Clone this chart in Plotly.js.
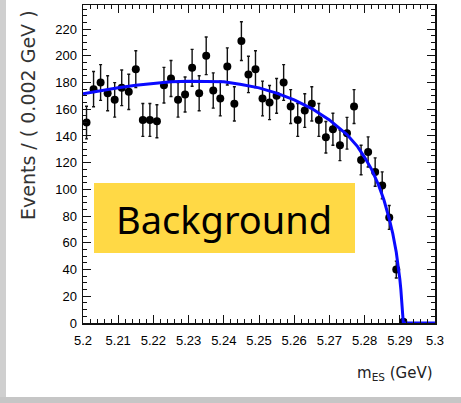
<!DOCTYPE html>
<html>
<head>
<meta charset="utf-8">
<script src="https://cdn.plot.ly/plotly-3.0.1.min.js"></script>
<style>
  html, body { margin: 0; padding: 0; background: #ffffff; }
  #chart { width: 461px; height: 403px; }
</style>
</head>
<body>
<div id="chart"></div>
<script>
// m_ES bin centres (GeV), 0.002 GeV bins
const binCentres = [
  5.201, 5.203, 5.205, 5.207, 5.209, 5.211, 5.213, 5.215, 5.217, 5.219,
  5.221, 5.223, 5.225, 5.227, 5.229, 5.231, 5.233, 5.235, 5.237, 5.239,
  5.241, 5.243, 5.245, 5.247, 5.249, 5.251, 5.253, 5.255, 5.257, 5.259,
  5.261, 5.263, 5.265, 5.267, 5.269, 5.271, 5.273, 5.275, 5.277, 5.279,
  5.281, 5.283, 5.285, 5.287, 5.289, 5.291
];

// events per bin
const events = [
  150, 175, 180, 172, 167, 176, 173, 190, 152, 152,
  151, 178, 183, 167, 171, 191, 172, 200, 174, 168,
  192, 164, 211, 186, 190, 168, 165, 170, 180, 162,
  152, 159, 164, 152, 139, 145, 133, 142, 162, 122,
  128, 113, 103, 79, 40, 1
];

// statistical uncertainty per bin
const eventErrors = [
  12.2, 13.2, 13.4, 13.1, 12.9, 13.3, 13.2, 13.8, 12.3, 12.3,
  12.3, 13.3, 13.5, 12.9, 13.1, 13.8, 13.1, 14.1, 13.2, 13.0,
  13.9, 12.8, 14.5, 13.6, 13.8, 13.0, 12.8, 13.0, 13.4, 12.7,
  12.3, 12.6, 12.8, 12.3, 11.8, 12.0, 11.5, 11.9, 12.7, 11.0,
  11.3, 10.6, 10.1, 8.9, 6.3, 1.0
];

// background fit curve (ARGUS shape) sampled along m_ES
const fitMass = [
  5.200, 5.205, 5.210, 5.215, 5.220, 5.225, 5.230, 5.235, 5.240, 5.245,
  5.250, 5.255, 5.260, 5.265, 5.270, 5.275, 5.278, 5.280, 5.282, 5.284,
  5.2855, 5.287, 5.288, 5.289, 5.2895, 5.2900, 5.2903, 5.2906, 5.2910, 5.3000
];
const fitEvents = [
  171.5, 174, 176, 178, 179.5, 180.5, 181, 181, 180.5, 178.5,
  176, 172, 167, 160.5, 152, 141, 132, 124, 115, 103,
  92, 78, 67, 53, 44, 33, 25, 15, 0, 0
];

// axis ticks
const xTickVals = [5.20, 5.21, 5.22, 5.23, 5.24, 5.25, 5.26, 5.27, 5.28, 5.29, 5.30];
const xTickText = ["5.2", "5.21", "5.22", "5.23", "5.24", "5.25", "5.26", "5.27", "5.28", "5.29", "5.3"];
const yTickVals = [0, 20, 40, 60, 80, 100, 120, 140, 160, 180, 200, 220];

const yTitle = "Events / ( 0.002 GeV )";
const xTitle = "m<sub>ES</sub> (GeV)";
const boxLabel = "Background";

const dataTrace = {
  type: "scatter",
  mode: "markers",
  x: binCentres,
  y: events,
  error_y: {
    type: "data",
    array: eventErrors,
    visible: true,
    color: "#111111",
    thickness: 1.4,
    width: 1.5
  },
  marker: { color: "#000000", size: 8 },
  hoverinfo: "x+y",
  showlegend: false
};

const fitTrace = {
  type: "scatter",
  mode: "lines",
  x: fitMass,
  y: fitEvents,
  line: { color: "#0a0aff", width: 3, shape: "linear" },
  hoverinfo: "skip",
  showlegend: false
};

// plot area spans pixels x 83..435, y 5..323
const L = 83, R = 435, T = 5, B = 323;
const px = v => (v - L) / (R - L);
const py = v => (B - v) / (B - T);

const tickFont = { family: "Liberation Sans, Arial, sans-serif", size: 13, color: "#000000" };

const layout = {
  width: 461,
  height: 403,
  margin: { l: L, r: 461 - R, t: T, b: 403 - B, pad: 0 },
  paper_bgcolor: "#ffffff",
  plot_bgcolor: "#ffffff",
  showlegend: false,
  xaxis: {
    range: [5.2, 5.3],
    tickvals: xTickVals,
    ticktext: xTickText,
    ticks: "inside",
    ticklen: 8,
    tickwidth: 1,
    tickcolor: "#111111",
    mirror: "allticks",
    showline: true,
    linecolor: "#111111",
    linewidth: 1.5,
    showgrid: false,
    zeroline: false,
    tickfont: tickFont,
    ticklabelstandoff: 5,
    minor: { dtick: 0.002, tick0: 5.2, ticks: "inside", ticklen: 4, tickcolor: "#111111", tickwidth: 1, showgrid: false }
  },
  yaxis: {
    range: [0, 238],
    tickvals: yTickVals,
    ticks: "inside",
    ticklen: 8,
    tickwidth: 1,
    tickcolor: "#111111",
    mirror: "allticks",
    showline: true,
    linecolor: "#111111",
    linewidth: 1.5,
    showgrid: false,
    zeroline: false,
    tickfont: tickFont,
    ticklabelstandoff: 2,
    minor: { dtick: 5, tick0: 0, ticks: "inside", ticklen: 4, tickcolor: "#111111", tickwidth: 1, showgrid: false }
  },
  shapes: [
    // slide frame edges
    { type: "rect", xref: "paper", yref: "paper", x0: px(0), x1: px(6), y0: py(403), y1: py(0),
      fillcolor: "#cfcfcf", line: { width: 0 }, layer: "below" },
    { type: "rect", xref: "paper", yref: "paper", x0: px(0), x1: px(461), y0: py(403), y1: py(397),
      fillcolor: "#c6c6c6", line: { width: 0 }, layer: "below" },
    // label box
    { type: "rect", xref: "paper", yref: "paper", x0: px(94), x1: px(355), y0: py(253), y1: py(183),
      fillcolor: "#ffd945", line: { width: 0 }, layer: "above" }
  ],
  annotations: [
    { text: boxLabel, xref: "paper", yref: "paper", x: px(224), y: py(219),
      xanchor: "center", yanchor: "middle", showarrow: false,
      font: { family: "Noto Sans, DejaVu Sans, sans-serif", size: 38, color: "#000000" } },
    { text: yTitle, xref: "paper", yref: "paper", x: px(28), y: py(8),
      xanchor: "center", yanchor: "top", textangle: -90, showarrow: false,
      font: { family: "DejaVu Sans, sans-serif", size: 19, color: "#333333" } },
    { text: xTitle, xref: "paper", yref: "paper", x: px(435), y: py(373),
      xanchor: "right", yanchor: "middle", showarrow: false,
      font: { family: "DejaVu Sans, sans-serif", size: 15, color: "#222222" } }
  ]
};

Plotly.newPlot("chart", [dataTrace, fitTrace], layout, { displayModeBar: false, staticPlot: true });
</script>
</body>
</html>
